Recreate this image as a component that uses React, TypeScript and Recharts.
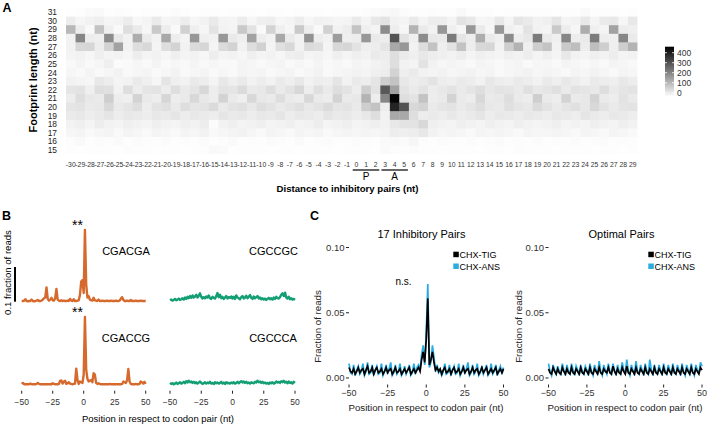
import React from 'react';
import { ScatterChart, Scatter, XAxis, YAxis, LineChart, Line, ReferenceLine } from 'recharts';

const FONT = '"Liberation Sans", Arial, Helvetica, sans-serif';

// ---------- Panel A: footprint heatmap ----------
const distanceLabels = [
  -30, -29, -28, -27, -26, -25, -24, -23, -22, -21, -20, -19, -18, -17, -16, -15, -14, -13, -12, -11,
  -10, -9, -8, -7, -6, -5, -4, -3, -2, -1, 0, 1, 2, 3, 4, 5, 6, 7, 8, 9,
  10, 11, 12, 13, 14, 15, 16, 17, 18, 19, 20, 21, 22, 23, 24, 25, 26, 27, 28, 29,
];
const footprintLengths = [31, 30, 29, 28, 27, 26, 25, 24, 23, 22, 21, 20, 19, 18, 17, 16, 15];

const fp31 = [3,5,12,15,5,8,4,3,5,4, 6,10,4,3,5,4,3,6,4,5, 3,4,5,3,6,4,5,3,4,6, 5,8,12,15,18,10,6,4,8,5, 4,14,6,5,4,3,5,4,6,5, 4,3,5,4,12,6,5,4,3,5];
const fp30 = [40,20,30,35,22,28,42,18,25,45, 22,28,40,20,30,45,25,22,42,20, 35,38,20,25,40,20,32,30,22,25, 45,25,50,60,30,25,45,25,40,40, 25,60,50,20,25,50,25,55,45,30, 35,55,25,30,50,25,45,50,20,50];
const fp29 = [140,40,15,120,35,15,70,45,20,110, 40,15,95,35,20,60,30,25,110,60, 15,90,35,20,110,40,15,95,30,40, 120,35,25,220,40,20,150,45,30,200, 35,20,200,45,20,200,35,25,60,30, 25,110,40,20,160,35,25,180,40,35];
const fp28 = [30,230,40,35,220,50,30,160,45,30, 170,40,25,200,35,30,200,45,35,180, 40,30,170,45,30,210,40,30,190,35, 40,200,45,40,320,60,35,220,50,45, 250,55,40,160,45,35,220,40,50,250, 45,35,230,40,45,250,40,35,230,45];
const fp27 = [30,80,85,40,90,180,30,70,80,25, 70,90,30,75,85,25,75,90,30,70, 95,25,65,80,30,75,70,25,80,85, 60,35,40,55,170,200,30,70,120,35, 60,120,40,80,85,30,100,150,35,100, 120,30,110,130,40,130,100,35,100,150];
const fp26 = [25,30,20,35,25,30,20,40,25,30, 20,35,25,30,20,40,25,30,20,35, 25,30,20,35,40,25,30,20,35,25, 35,30,45,40,70,45,35,50,40,35, 30,40,25,35,30,25,35,30,40,25, 35,25,50,30,25,35,30,40,25,30];
const fp25 = [15,25,15,20,35,10,15,20,15,25, 15,20,15,25,15,20,15,15,25,20, 15,20,25,15,20,15,25,15,20,15, 25,20,30,35,70,30,25,60,30,20, 25,20,15,25,20,15,20,25,15,20, 20,15,25,20,15,20,15,25,20,15];
const fp24 = [20,15,25,15,20,30,15,20,25,15, 20,30,15,20,25,15,20,15,25,20, 25,15,20,25,15,20,30,15,20,25, 30,25,35,40,90,35,45,30,25,30, 20,25,30,20,25,15,20,25,30,20, 25,20,15,25,20,30,20,15,25,20];
const fp23 = [30,25,20,50,40,25,30,45,35,20, 55,35,30,45,40,25,50,35,45,30, 40,30,45,35,50,30,40,35,55,30, 45,40,55,100,120,50,40,45,60,40, 35,45,40,30,50,40,35,45,40,30, 45,35,50,40,30,45,40,35,50,40];
const fp22 = [55,60,35,70,65,30,70,40,55,60, 40,70,45,55,80,40,60,55,75,45, 50,70,45,60,80,40,65,45,70,60, 40,100,60,310,180,60,45,60,40,50, 60,45,55,70,50,60,55,45,65,50, 55,65,45,60,55,50,70,45,55,60];
const fp21 = [40,70,50,45,100,40,35,90,45,40, 85,40,45,80,50,40,90,45,35,80, 50,45,70,45,40,80,45,40,90,45, 50,150,40,230,450,70,60,120,40,45, 90,45,40,80,45,50,70,45,40,100, 45,40,90,45,50,90,45,40,60,45];
const fp20 = [55,60,45,50,80,45,55,70,40,60, 65,45,70,55,60,75,45,60,65,50, 70,60,45,55,65,50,60,75,55,60, 45,100,120,40,400,320,80,90,45,55, 60,45,55,70,50,45,65,55,50,75, 60,45,55,65,50,80,60,45,55,60];
const fp19 = [45,50,40,45,55,40,50,45,40,50, 45,55,40,50,45,40,55,45,50,40, 50,45,55,40,50,45,40,55,45,50, 40,50,70,30,170,170,70,40,45,40, 50,40,45,55,40,50,45,40,50,45, 40,50,45,40,55,45,40,50,45,40];
const fp18 = [30,35,25,40,30,25,35,30,25,35, 30,25,35,30,40,10,30,35,25,30, 35,25,30,35,25,30,40,25,30,35, 25,30,35,30,50,60,60,80,35,30, 25,35,30,25,35,30,25,35,30,25, 30,35,25,30,25,35,30,25,35,30];
const fp17 = [20,25,15,20,25,15,25,20,15,25, 20,15,25,20,30,15,20,25,30,20, 15,25,20,15,25,20,25,15,20,25, 20,25,20,25,40,35,40,50,30,20, 25,20,15,25,20,25,20,15,25,20, 20,25,20,15,25,20,15,25,20,15];
const fp16 = [8,15,5,10,8,12,5,10,8,6, 10,5,8,6,10,5,8,12,6,8, 5,10,8,6,12,5,8,10,6,5, 10,8,6,12,15,10,20,8,6,10, 8,6,10,5,8,10,6,8,5,10, 6,8,5,10,6,8,10,5,8,6];
const fp15 = [5,3,4,6,5,3,8,4,5,3, 4,6,3,5,4,15,12,3,5,4, 6,3,5,4,3,6,4,5,3,6, 4,5,3,12,8,5,10,6,4,3, 5,4,6,3,5,4,3,8,5,4, 6,3,5,4,6,3,5,4,3,5];
const heatRows = [fp31, fp30, fp29, fp28, fp27, fp26, fp25, fp24, fp23, fp22, fp21, fp20, fp19, fp18, fp17, fp16, fp15];

const colorbarTicks = [0, 100, 200, 300, 400];
const colorbarRange = [-40, 460];

// ---------- Panel B: codon pair profiles (values in 1/1000 fraction of reads) ----------
const bPositions = Array.from({ length: 101 }, (_, i) => i - 50);
const posTicks = [-50, -25, 0, 25, 50];
const cgacga = [2,2,3,7,2,1,2,2,6,2, 1,2,3,5,2,2,3,6,10,12, 41,8,3,6,11,4,3,10,37,6, 3,2,4,2,3,2,2,3,2,8, 3,2,7,2,2,3,4,20,58,62, 25,207,50,12,16,6,4,3,11,4, 3,2,6,2,2,3,2,2,2,3, 2,2,3,2,2,2,3,2,2,3, 9,13,5,2,2,3,2,2,5,2, 2,2,3,2,2,2,3,2,2,2,2];
const cgaccg = [3,6,2,2,2,2,2,4,2,2, 2,2,3,6,3,2,2,2,2,2, 2,2,2,2,2,5,3,2,2,2, 3,12,13,4,10,12,3,5,8,4, 3,2,3,4,47,14,3,10,8,6, 30,196,45,18,10,12,14,8,34,30, 6,3,5,3,2,2,2,2,2,2, 2,3,2,2,2,2,2,2,2,2, 2,3,10,8,6,14,46,10,3,2, 2,2,3,2,2,3,10,8,4,9,3];
const cgccgc = [4,6,3,5,8,4,6,9,5,7, 10,6,12,8,14,10,16,11,18,12, 15,20,12,17,24,14,9,13,10,15, 12,18,10,8,14,11,9,16,25,13, 20,10,14,8,12,16,9,13,11,15, 9,14,8,18,12,10,7,13,16,9, 12,17,10,14,19,11,8,15,10,13, 16,9,12,7,10,6,9,5,8,11, 7,10,6,12,8,14,10,9,13,20, 24,16,26,12,9,14,7,10,6,8,5];
const cgccca = [6,3,5,2,4,7,3,5,8,4, 6,9,5,11,7,12,8,10,6,9, 5,8,4,7,10,6,3,5,8,4, 7,5,9,4,6,3,8,5,7,4, 6,9,4,7,3,8,5,6,4,7, 5,8,4,6,9,5,8,11,7,10, 6,9,5,7,4,8,6,5,9,7, 12,8,10,6,9,5,7,4,6,3, 7,5,8,4,6,10,7,9,6,11, 8,12,7,9,5,10,6,8,4,9,6];

// ---------- Panel C: metagene profiles (values in 1/1000) ----------
const seriesNames = ['CHX-TIG', 'CHX-ANS'];
const inhibTig = [8,5,4,7,3,5,8,4,6,7, 3,6,9,4,5,8,3,6,8,4, 5,7,3,5,8,4,6,7,3,5, 8,4,5,7,3,5,7,4,6,8, 3,5,7,4,6,8,5,14,20,12, 30,61,10,14,20,12,6,8,5,7, 3,6,8,4,5,7,3,6,8,4, 5,7,3,5,8,4,6,7,3,5, 8,4,6,7,3,5,8,4,6,8, 3,5,7,4,6,8,3,5,7,4,7];
const inhibAns = [11,4,3,10,2,6,9,3,5,11, 2,5,12,3,4,10,2,6,9,3, 4,11,2,5,10,3,7,12,2,4, 10,3,5,11,2,4,9,3,6,10, 2,4,11,3,8,10,6,18,25,10, 35,72,8,12,25,16,5,10,4,6, 2,5,11,3,4,10,2,6,9,3, 4,11,2,5,10,3,7,12,2,4, 10,3,5,11,2,4,9,3,6,10, 2,4,11,3,5,10,2,6,9,3,8];
const optTig = [7,4,3,8,5,3,7,4,3,8, 5,3,7,4,3,8,4,3,7,5, 3,8,4,3,7,5,3,8,4,3, 7,5,3,8,4,3,7,5,4,8, 4,3,9,5,3,7,4,3,8,5, 3,9,4,3,7,5,3,8,4,3, 7,5,3,8,4,3,7,5,3,8, 4,3,7,5,3,8,4,3,7,5, 3,8,4,3,7,5,3,8,4,3, 7,5,3,8,4,3,7,5,3,8,6];
const optAns = [11,5,2,10,6,3,9,5,2,11, 6,2,10,5,3,11,6,2,9,6, 2,10,5,3,9,6,2,11,5,2, 10,6,3,13,5,2,10,6,3,11, 5,3,11,6,2,10,5,3,12,6, 3,14,5,2,10,6,2,13,5,3, 10,6,2,11,5,3,14,6,2,10, 5,3,10,6,2,11,5,3,10,6, 2,11,5,3,10,6,2,11,5,2, 10,6,3,11,5,2,10,6,3,12,9];
const cTicks = [0, 0.05, 0.1];

// ---------- derived tables ----------
const heatData: { x: number; y: number; v: number }[] = [];
footprintLengths.forEach((len, r) => {
  distanceLabels.forEach((d, c) => heatData.push({ x: d, y: len, v: heatRows[r][c] }));
});
const profile = (vals: number[]) => bPositions.map((x, i) => ({ x, v: vals[i] / 1000 }));
const pair = (a: number[], b: number[]) => bPositions.map((x, i) => ({ x, tig: a[i] / 1000, ans: b[i] / 1000 }));

const ORANGE = '#D6692C';
const GREEN = '#139E74';
const BLUE = '#2AABE2';

const W = 708;
const H = 425;

// heatmap plot box
const HX0 = 66, HX1 = 637.5, HY0 = 8, HY1 = 154.3;
const CELL_W = (HX1 - HX0) / distanceLabels.length;
const CELL_H = (HY1 - HY0) / footprintLengths.length;
const grayFor = (v: number) => {
  const f = Math.max(0, Math.min(1, v / 460));
  const g = Math.round(255 * (1 - Math.pow(f, 1.08)));
  return `rgb(${g},${g},${g})`;
};
const HeatCell = (props: any) => {
  const { cx, cy, payload } = props;
  if (cx == null || cy == null) return null;
  return <rect x={cx - CELL_W / 2} y={cy - CELL_H / 2} width={CELL_W + 0.4} height={CELL_H + 0.4} fill={grayFor(payload.v)} />;
};

const minusFmt = (v: number) => (v < 0 ? `\u2212${-v}` : `${v}`);
const abs = (extra: React.CSSProperties = {}): React.CSSProperties => ({ position: 'absolute', left: 0, top: 0, ...extra });

type BProps = { data: { x: number; v: number }[]; color: string; left: number; right: number; top: number; bottom: number; axis: boolean; scaleBar?: boolean };
const BPlot = ({ data, color, left, right, top, bottom, axis, scaleBar }: BProps) => (
  <div style={abs()}>
    <LineChart width={W} height={H} data={data}
      margin={{ left, right: W - right, top, bottom: H - bottom - (axis ? 20 : 0) }}>
      <XAxis type="number" dataKey="x" domain={[-50, 50]} ticks={posTicks} hide={!axis} height={axis ? 20 : 0}
        axisLine={false} tickSize={3} tickMargin={5.5} tickLine={{ stroke: '#222', strokeWidth: 1 }}
        tickFormatter={minusFmt} tick={{ fontSize: 8.5, fill: '#333', fontFamily: FONT }} interval={0} />
      <YAxis type="number" hide width={0} domain={[-0.0165, 0.22]} allowDataOverflow />
      {scaleBar && (
        <ReferenceLine segment={[{ x: -55.4, y: 0 }, { x: -55.4, y: 0.1 }]} stroke="#000" strokeWidth={2} ifOverflow="visible" />
      )}
      <Line type="linear" dataKey="v" stroke={color} strokeWidth={2.4} dot={false} isAnimationActive={false} strokeLinejoin="round" />
    </LineChart>
  </div>
);

type CProps = { data: { x: number; tig: number; ans: number }[]; left: number; right: number };
const CPlot = ({ data, left, right }: CProps) => (
  <div style={abs()}>
    <LineChart width={W} height={H} data={data} margin={{ left: left - 30, right: W - right, top: 241, bottom: H - 384.5 - 15 }}>
      <XAxis type="number" dataKey="x" domain={[-50, 50]} ticks={posTicks} height={15} axisLine={false}
        tickSize={3} tickMargin={2} tickLine={{ stroke: '#222' }} tickFormatter={minusFmt}
        tick={{ fontSize: 9, fill: '#333', fontFamily: FONT }} interval={0} />
      <YAxis type="number" width={30} domain={[-0.005, 0.105]} allowDataOverflow ticks={cTicks} axisLine={false}
        tickSize={3} tickMargin={1.5} tickLine={{ stroke: '#222' }} tickFormatter={(v: number) => v.toFixed(2)}
        tick={{ fontSize: 9.5, fill: '#333', fontFamily: FONT }} interval={0} />
      <Line type="linear" dataKey="ans" name={seriesNames[1]} stroke={BLUE} strokeWidth={1.7} dot={false} isAnimationActive={false} />
      <Line type="linear" dataKey="tig" name={seriesNames[0]} stroke="#000" strokeWidth={1.7} dot={false} isAnimationActive={false} />
    </LineChart>
  </div>
);

const cbY = (v: number) => 92.7 - (v / 100) * 10;

export default function App() {
  return (
    <div style={{ position: 'absolute', left: 0, top: 0, width: W, height: H, background: '#fff', overflow: 'hidden', fontFamily: FONT }}>
      {/* Panel A heatmap */}
      <div style={abs()}>
        <ScatterChart width={W} height={200} margin={{ left: HX0 - 30, right: W - HX1, top: HY0, bottom: 200 - HY1 - 30 }}>
          <XAxis type="number" dataKey="x" domain={[-30.5, 29.5]} allowDataOverflow ticks={distanceLabels} interval={0}
            height={30} axisLine={false} tickLine={false} tickSize={0} tickMargin={8}
            tick={{ fontSize: 6.8, fill: '#333', fontFamily: FONT }} />
          <YAxis type="number" dataKey="y" domain={[14.5, 31.5]} allowDataOverflow ticks={footprintLengths} interval={0}
            width={30} axisLine={false} tickLine={false} tickSize={0} tickMargin={9}
            tick={{ fontSize: 8.4, fill: '#222', fontFamily: FONT }} />
          <Scatter data={heatData} shape={HeatCell} isAnimationActive={false} />
        </ScatterChart>
      </div>

      {/* Panel B */}
      <BPlot data={profile(cgacga)} color={ORANGE} left={21.7} right={145.7} top={225.36} bottom={307.4} axis={false} scaleBar />
      <BPlot data={profile(cgccgc)} color={GREEN} left={170} right={295} top={225.36} bottom={307.4} axis={false} />
      <BPlot data={profile(cgaccg)} color={ORANGE} left={21.7} right={145.7} top={308.66} bottom={390.7} axis />
      <BPlot data={profile(cgccca)} color={GREEN} left={170} right={295} top={308.66} bottom={390.7} axis />

      {/* Panel C */}
      <CPlot data={pair(inhibTig, inhibAns)} left={349} right={503.5} />
      <CPlot data={pair(optTig, optAns)} left={548.5} right={702} />

      {/* Text / annotations overlay */}
      <svg width={W} height={H} style={abs({ pointerEvents: 'none' })} fontFamily={FONT}>
        <defs>
          <linearGradient id="cbGrad" x1="0" y1="1" x2="0" y2="0">
            <stop offset="0%" stopColor="#ffffff" />
            <stop offset="100%" stopColor="#000000" />
          </linearGradient>
        </defs>
        {/* A */}
        <text x={2.5} y={11.5} fontSize={12.5} fontWeight="bold">A</text>
        <text x={32.5} y={80} fontSize={11} fontWeight="bold" textAnchor="middle" dominantBaseline="central" transform="rotate(-90 32.5 80)">Footprint length (nt)</text>
        <line x1={352.7} x2={379.3} y1={170} y2={170} stroke="#000" strokeWidth={1.2} />
        <line x1={381.4} x2={407.9} y1={170} y2={170} stroke="#000" strokeWidth={1.2} />
        <text x={366} y={180} fontSize={10} textAnchor="middle">P</text>
        <text x={394.6} y={180} fontSize={10} textAnchor="middle">A</text>
        <text x={347.5} y={191.5} fontSize={9.6} fontWeight="bold" textAnchor="middle">Distance to inhibitory pairs (nt)</text>
        <rect x={665} y={cbY(colorbarRange[1])} width={9} height={cbY(colorbarRange[0]) - cbY(colorbarRange[1])} fill="url(#cbGrad)" />
        {colorbarTicks.map((t) => (
          <g key={t}>
            <line x1={665} x2={667} y1={cbY(t)} y2={cbY(t)} stroke="#fff" strokeWidth={0.8} />
            <line x1={672} x2={674} y1={cbY(t)} y2={cbY(t)} stroke="#fff" strokeWidth={0.8} />
            <text x={677} y={cbY(t)} fontSize={8.5} fill="#333" dominantBaseline="central">{t}</text>
          </g>
        ))}
        {/* B */}
        <text x={2} y={220} fontSize={12.5} fontWeight="bold">B</text>
        <text x={7.5} y={272.5} fontSize={9.6} textAnchor="middle" dominantBaseline="central" transform="rotate(-90 7.5 272.5)">0.1 fraction of reads</text>
        <text x={77.5} y={229.5} fontSize={14} textAnchor="middle">**</text>
        <text x={77.5} y={317} fontSize={14} textAnchor="middle">**</text>
        <text x={126} y={255} fontSize={11} textAnchor="middle">CGACGA</text>
        <text x={273.5} y={255} fontSize={11} textAnchor="middle">CGCCGC</text>
        <text x={126} y={341.7} fontSize={11} textAnchor="middle">CGACCG</text>
        <text x={273} y={341.7} fontSize={11} textAnchor="middle">CGCCCA</text>
        <text x={158} y={421.5} fontSize={9.5} textAnchor="middle">Position in respect to codon pair (nt)</text>
        {/* C */}
        <text x={310} y={220} fontSize={12.5} fontWeight="bold">C</text>
        <text x={421.5} y={238} fontSize={11} textAnchor="middle">17 Inhibitory Pairs</text>
        <text x={621.5} y={238} fontSize={11} textAnchor="middle">Optimal Pairs</text>
        <text x={403.5} y={285} fontSize={10} textAnchor="middle">n.s.</text>
        {[453.3, 648.3].map((lx) => (
          <g key={lx}>
            <rect x={lx} y={251.7} width={5.5} height={5.5} fill="#000" />
            <text x={lx + 6.2} y={258} fontSize={9}>{seriesNames[0]}</text>
            <rect x={lx} y={263.5} width={5.5} height={5.5} fill={BLUE} />
            <text x={lx + 6.2} y={270} fontSize={9}>{seriesNames[1]}</text>
          </g>
        ))}
        <text x={317} y={326.5} fontSize={9.7} textAnchor="middle" dominantBaseline="central" transform="rotate(-90 317 326.5)" fill="#222">Fraction of reads</text>
        <text x={518.5} y={326.5} fontSize={9.7} textAnchor="middle" dominantBaseline="central" transform="rotate(-90 518.5 326.5)" fill="#222">Fraction of reads</text>
        <text x={426} y={410.5} fontSize={9.7} textAnchor="middle" fill="#222">Position in respect to codon pair (nt)</text>
        <text x={625} y={410.5} fontSize={9.7} textAnchor="middle" fill="#222">Position in respect to codon pair (nt)</text>
      </svg>
    </div>
  );
}
